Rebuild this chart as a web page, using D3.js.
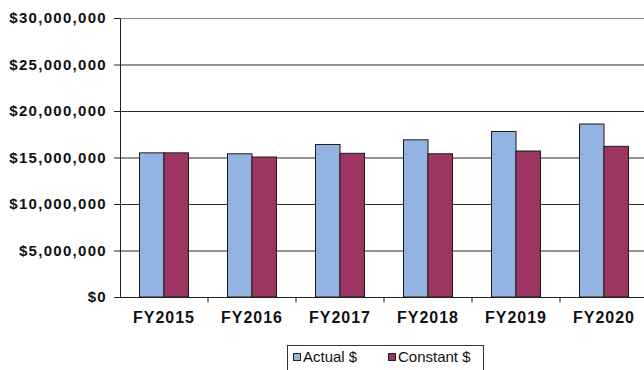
<!doctype html>
<html>
<head>
    <meta charset="UTF-8">
    <title>FY budget chart</title>
    <script src="https://d3js.org/d3.v7.min.js"></script>
    <style>
        body { margin: 0; background: #fff; }
        svg { display: block; }
    </style>
</head>
<body>
<svg width="644" height="370"></svg>
<script>
    // data
    var years = ["FY2015", "FY2016", "FY2017", "FY2018", "FY2019", "FY2020"];
    var seriesNames = ["Actual $", "Constant $"];
    var actual = [15500000, 15400000, 16400000, 16900000, 17800000, 18600000];
    var constant = [15500000, 15050000, 15450000, 15400000, 15700000, 16200000];
    var yTicks = [0, 5000000, 10000000, 15000000, 20000000, 25000000, 30000000];

    var colors = ["#93b3e2", "#9c3562"];
    var plotL = 120, plotR = 648, plotT = 18, plotB = 297;

    var svg = d3.select("svg");

    var y = d3.scaleLinear().domain([0, 30000000]).range([plotB, plotT]);
    var x0 = d3.scaleBand().domain(years).range([plotL, plotR]);
    var x1 = d3.scaleBand().domain(seriesNames).range([19.5, 68.5]);

    // gridlines
    svg.append("g").selectAll("line")
        .data(yTicks.slice(1))
        .enter().append("line")
        .attr("x1", plotL).attr("x2", plotR)
        .attr("y1", function(d){ return y(d) + 0.5; })
        .attr("y2", function(d){ return y(d) + 0.5; })
        .attr("stroke", function(d){ return d === 30000000 ? "#8a8a8a" : "#2a2a2a"; })
        .attr("stroke-width", 1);

    // y axis
    var fmt = d3.format("$,");
    var yAxis = d3.axisLeft(y).tickValues(yTicks).tickSize(6).tickPadding(7)
        .tickFormat(function(d){ return fmt(d); });
    var gy = svg.append("g").attr("transform", "translate(" + plotL + ",0)").call(yAxis);
    gy.select(".domain").attr("stroke", "#222");
    gy.selectAll(".tick line").attr("stroke", "#222");
    gy.selectAll("text")
        .attr("fill", "#111")
        .style("font-family", "Liberation Sans, Arial, sans-serif")
        .style("font-size", "15px")
        .style("font-weight", "bold")
        .style("letter-spacing", "1.3px");

    // bars
    var data = years.map(function(yr, i){
        return { year: yr, values: [actual[i], constant[i]] };
    });
    var groups = svg.append("g").selectAll("g")
        .data(data)
        .enter().append("g")
        .attr("transform", function(d){ return "translate(" + x0(d.year) + ",0)"; });
    groups.selectAll("rect")
        .data(function(d){ return d.values.map(function(v, j){ return { name: seriesNames[j], v: v, j: j }; }); })
        .enter().append("rect")
        .attr("x", function(d){ return x1(d.name); })
        .attr("y", function(d){ return y(d.v); })
        .attr("width", x1.bandwidth())
        .attr("height", function(d){ return plotB - y(d.v); })
        .attr("fill", function(d){ return colors[d.j]; })
        .attr("stroke", "#1a1a1a")
        .attr("stroke-width", 1);

    // x axis
    var gx = svg.append("g").attr("transform", "translate(0," + (plotB + 0.5) + ")");
    gx.append("line").attr("x1", plotL).attr("x2", plotR).attr("stroke", "#222");
    gx.selectAll("line.tk")
        .data(years.slice(1))
        .enter().append("line").attr("class", "tk")
        .attr("x1", function(d){ return x0(d); }).attr("x2", function(d){ return x0(d); })
        .attr("y1", 0).attr("y2", 5)
        .attr("stroke", "#222");
    gx.selectAll("text")
        .data(years)
        .enter().append("text")
        .attr("x", function(d){ return x0(d) + x0.bandwidth() / 2; })
        .attr("y", 25)
        .attr("text-anchor", "middle")
        .attr("fill", "#111")
        .style("font-family", "Liberation Sans, Arial, sans-serif")
        .style("font-size", "16px")
        .style("font-weight", "bold")
        .style("letter-spacing", "1px")
        .text(function(d){ return d; });

    // legend
    var lg = svg.append("g");
    lg.append("rect")
        .attr("x", 287.5).attr("y", 345.5).attr("width", 196).attr("height", 30)
        .attr("fill", "#fff").attr("stroke", "#333");
    var lx = [293, 388];
    seriesNames.forEach(function(name, i){
        lg.append("rect")
            .attr("x", lx[i] + 0.5).attr("y", 353.5).attr("width", 7).attr("height", 7)
            .attr("fill", colors[i]).attr("stroke", "#222");
        lg.append("text")
            .attr("x", lx[i] + 10).attr("y", 362)
            .attr("fill", "#111")
            .style("font-family", "Liberation Sans, Arial, sans-serif")
            .style("font-size", "15px")
            .text(name);
    });
</script>
</body>
</html>
